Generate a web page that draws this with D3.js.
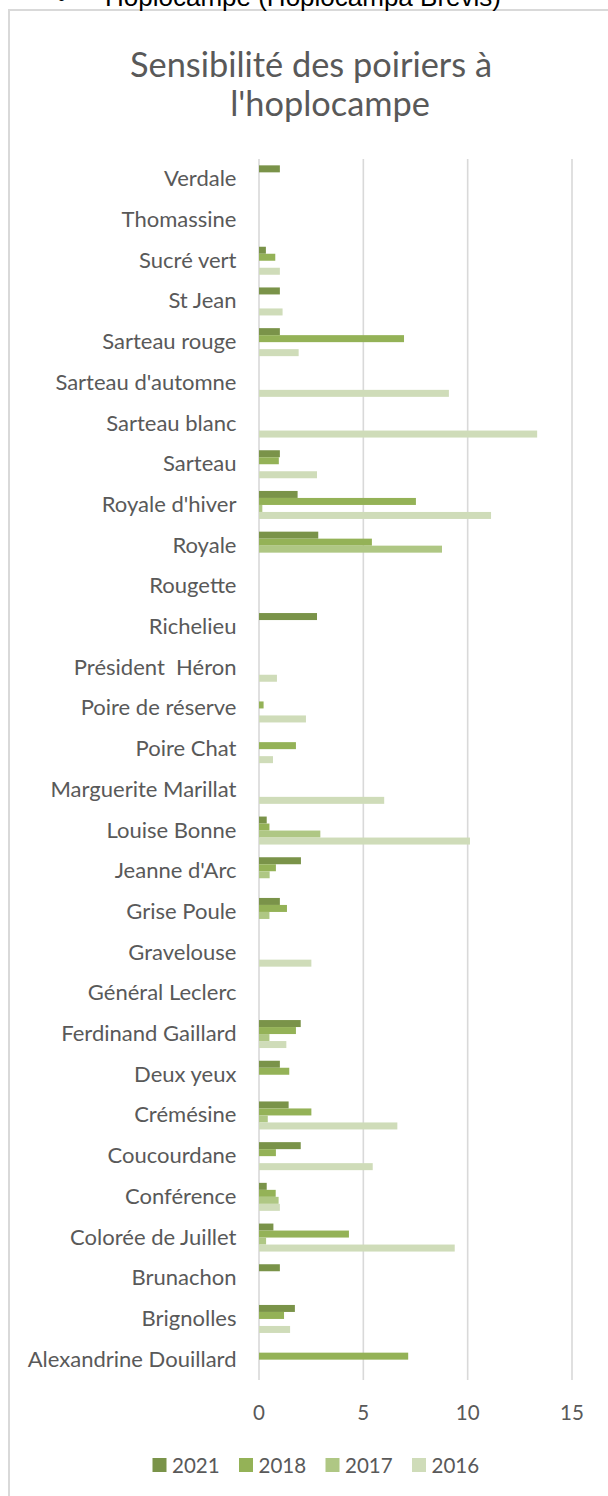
<!DOCTYPE html>
<html>
<head>
<meta charset="utf-8">
<script src="https://cdn.jsdelivr.net/npm/d3@7"></script>
<style>
  html, body { margin: 0; padding: 0; background: #fff; }
  svg { display: block; }
  text { white-space: pre; }
</style>
</head>
<body>
<script>
// ---- DATA (top to bottom as displayed) ----
const categories = [
  "Verdale", "Thomassine", "Sucré vert", "St Jean", "Sarteau rouge",
  "Sarteau d'automne", "Sarteau blanc", "Sarteau", "Royale d'hiver", "Royale",
  "Rougette", "Richelieu", "Président  Héron", "Poire de réserve", "Poire Chat",
  "Marguerite Marillat", "Louise Bonne", "Jeanne d'Arc", "Grise Poule", "Gravelouse",
  "Général Leclerc", "Ferdinand Gaillard", "Deux yeux", "Crémésine", "Coucourdane",
  "Conférence", "Colorée de Juillet", "Brunachon", "Brignolles", "Alexandrine Douillard"
];
const seriesNames = ["2021", "2018", "2017", "2016"];
const values2021 = [1.0, null, 0.33, 1.0, 1.0, null, null, 1.0, 1.85, 2.84,
                    null, 2.78, null, null, null, null, 0.37, 2.01, 1.0, null,
                    null, 2.0, 1.0, 1.42, 2.0, 0.37, 0.69, 1.0, 1.72, null];
const values2018 = [null, null, 0.78, null, 6.95, null, null, 0.95, 7.52, 5.41,
                    null, null, null, 0.22, 1.77, null, 0.5, 0.81, 1.34, null,
                    null, 1.77, 1.45, 2.51, 0.81, 0.8, 4.31, null, 1.2, 7.15];
const values2017 = [null, null, null, null, null, null, null, null, 0.16, 8.77,
                    null, null, null, null, null, null, 2.94, 0.51, 0.5, null,
                    null, 0.5, null, 0.42, null, 0.94, 0.34, null, null, null];
const values2016 = [null, null, 1.0, 1.13, 1.9, 9.1, 13.33, 2.78, 11.12, null,
                    null, null, 0.86, 2.25, 0.67, 6.0, 10.11, null, null, 2.51,
                    null, 1.31, null, 6.63, 5.45, 1.0, 9.38, null, 1.49, null];
const xTicks = [0, 5, 10, 15];
const titleLines = ["Sensibilité des poiriers à", "l'hoplocampe"];
const pageHeading = "Hoplocampe (Hoplocampa Brevis)";

// ---- STYLE ----
const colors = ["#7a9349", "#94b257", "#afc784", "#cfdcb9"];
const textColor = "#595959";
const gridColor = "#d9d9d9";
const FONT = "Lato, 'Open Sans', sans-serif";

const W = 608, H = 1496;
const svg = d3.select("body").append("svg").attr("width", W).attr("height", H);

function fitSize(str, family, weight, target) {
  const t = svg.append("text").attr("font-family", family).attr("font-weight", weight)
    .attr("font-size", 100).text(str);
  const len = t.node().getComputedTextLength();
  t.remove();
  return 100 * target / len;
}

const labelSize = fitSize("Alexandrine Douillard", FONT, 400, 209);
const legendSize = fitSize("2018", FONT, 400, 47.7);
const titleSize = fitSize(titleLines[0], FONT, 400, 362);

// chart border (extends beyond the page on right / bottom)
svg.append("path").attr("d", `M9,${H + 2} L9,10 L${W + 2},10`)
  .attr("fill", "none").attr("stroke", gridColor).attr("stroke-width", 2);

// heading above the chart, cut off at the top
svg.append("text").attr("x", 57).attr("y", 6).attr("font-family", "'Liberation Sans', Arial, sans-serif")
  .attr("font-size", 26).attr("fill", "#000").text("•");
svg.append("text").attr("x", 105).attr("y", 6).attr("font-family", "'Liberation Sans', Arial, sans-serif")
  .attr("font-size", 26).attr("fill", "#000").text(pageHeading);

// title
const titleCenters = [311, 330];
const titleBaselines = [77, 116];
titleLines.forEach((line, i) => {
  svg.append("text").attr("x", titleCenters[i]).attr("y", titleBaselines[i])
    .attr("text-anchor", "middle").attr("font-family", FONT).attr("font-weight", 400)
    .attr("font-size", titleSize).attr("fill", textColor).text(line);
});

// scales
const x = d3.scaleLinear().domain([0, 15]).range([259, 572]);
const y = d3.scaleBand().domain(categories).range([159, 1380]).paddingInner(0.312).paddingOuter(0.156);
const yi = d3.scaleBand().domain(seriesNames).range([0, y.bandwidth()]);

// gridlines
svg.append("g").selectAll("line").data(xTicks).join("line")
  .attr("x1", d => x(d)).attr("x2", d => x(d)).attr("y1", 159).attr("y2", 1380)
  .attr("stroke", gridColor).attr("stroke-width", 1.6);

// x tick labels
svg.append("g").selectAll("text").data(xTicks).join("text")
  .attr("x", d => x(d)).attr("y", 1420).attr("text-anchor", "middle")
  .attr("font-family", FONT).attr("font-size", legendSize).attr("fill", textColor)
  .text(d => d);

// category labels
svg.append("g").selectAll("text").data(categories).join("text")
  .attr("x", 236.5).attr("y", d => y(d) + y.bandwidth() / 2 + 7)
  .attr("text-anchor", "end").attr("font-family", FONT).attr("font-size", labelSize)
  .attr("fill", textColor).text(d => d);

// bars
const allSeries = [values2021, values2018, values2017, values2016];
const bars = [];
allSeries.forEach((vals, si) => {
  vals.forEach((v, ci) => {
    if (v !== null && v !== undefined) bars.push({ cat: categories[ci], s: seriesNames[si], si, v });
  });
});
svg.append("g").selectAll("rect").data(bars).join("rect")
  .attr("x", x(0)).attr("y", d => y(d.cat) + yi(d.s))
  .attr("width", d => x(d.v) - x(0)).attr("height", yi.bandwidth())
  .attr("fill", d => colors[d.si]);

// legend
const legend = svg.append("g");
seriesNames.forEach((s, i) => {
  const lx = 152.5 + i * 86.5;
  legend.append("rect").attr("x", lx).attr("y", 1458).attr("width", 14).attr("height", 14)
    .attr("fill", colors[i]);
  legend.append("text").attr("x", lx + 19.5).attr("y", 1472.5)
    .attr("font-family", FONT).attr("font-size", legendSize).attr("fill", textColor).text(s);
});
</script>
</body>
</html>
